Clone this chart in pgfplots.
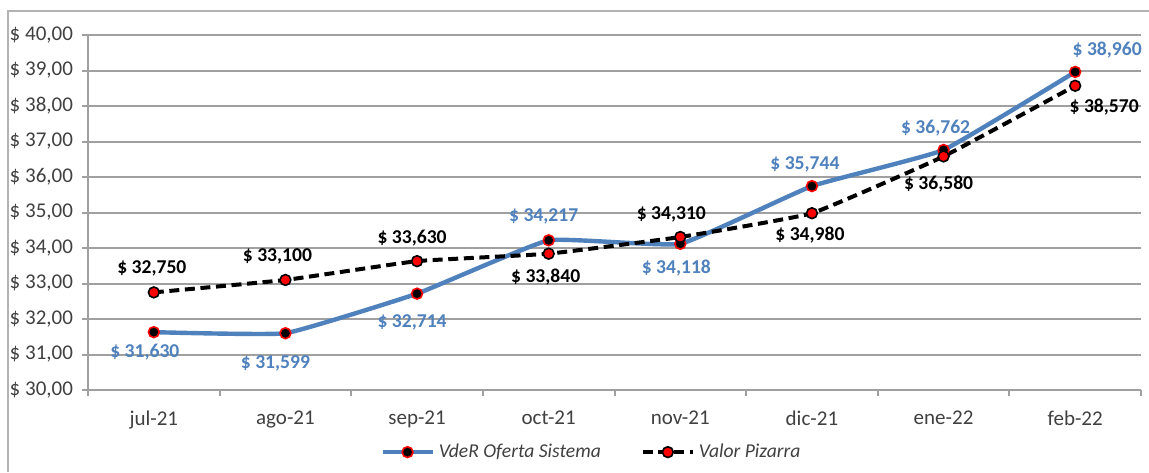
\documentclass[border=0pt]{standalone}
\usepackage{pgfplots}
\pgfplotsset{compat=1.18}
\usepackage{pgfplotstable}
\usepackage{fontspec}
\setmainfont{Carlito}
\definecolor{xlblue}{HTML}{4F81BD}
\definecolor{gridgray}{HTML}{A0A0A0}
\definecolor{txtgray}{HTML}{404040}

\pgfplotstableread{
x y dx dy
0 31.630 -4.5 -10
1 31.599 -5 -15
2 32.714 -2.5 -14.5
3 34.217 -2.5 12
4 34.118 -2 -12
5 35.744 -3.5 11
6 36.762 -4 11
7 38.960 16 11
}\vder

\pgfplotstableread{
x y dx dy
0 32.750 -1 12
1 33.100 -4 12
2 33.630 -2.5 11.5
3 33.840 -1.5 -11.5
4 34.310 -4.5 11.5
5 34.980 -1 -11
6 36.580 -2.5 -14
7 38.570 14.5 -10.5
}\pizarra

\begin{document}
\begin{tikzpicture}
\path[use as bounding box] (0,0) rectangle (574.5pt,236pt);
\draw[gridgray!80, line width=1pt] (4pt,0pt) -- (4pt,230.5pt) -- (574.5pt,230.5pt);
\begin{axis}[
  at={(44pt,41pt)}, anchor=south west,
  scale only axis, width=526.5pt, height=177.5pt,
  xmin=-0.5, xmax=7.5, ymin=30, ymax=40,
  xtick={0,...,7},
  xticklabels={jul-21,ago-21,sep-21,oct-21,nov-21,dic-21,ene-22,feb-22},
  major x tick style={draw=none},
  minor xtick={-0.5,0.5,...,7.5},
  minor x tick style={draw=gridgray, line width=1pt},
  minor tick length=3pt,
  ytick={30,31,...,40},
  major tick length=3pt,
  tick align=outside,
  y tick style={draw=gridgray, line width=1pt},
  axis x line*=bottom, axis y line*=left,
  axis line style={-, draw=gridgray, line width=1pt},
  every outer x axis line/.append style={-},
  every outer y axis line/.append style={-},
  ymajorgrids,
  grid style={draw=gridgray, line width=1pt},
  yticklabel={\$ \pgfmathprintnumber[fixed,fixed zerofill,precision=2,use comma,assume math mode=true]{\tick}},
  ticklabel style={font=\fontsize{10.5}{11}\selectfont, text=txtgray},
  yticklabel style={xshift=-1pt},
  xticklabel style={yshift=-4pt},
  legend style={at={(0.479,-0.175)}, anchor=center, draw=none, fill=none,
    font=\itshape\fontsize{9.8}{11}\selectfont, text=txtgray,
    /tikz/every even column/.append style={column sep=18pt}},
  legend columns=2,
  legend image code/.code={\draw[mark repeat=2,mark phase=2,#1] plot coordinates {(0pt,0pt) (12.5pt,0pt) (25pt,0pt)};},
  clip=false,
]
\addplot[xlblue, line width=2.2pt, smooth, tension=0.2,
  mark=*, mark size=2.7pt, mark options={solid, fill=black, draw=red, line width=0.8pt},
  visualization depends on={\thisrow{dx}\as\dx},
  visualization depends on={\thisrow{dy}\as\dy},
  nodes near coords={\$ \pgfmathprintnumber[fixed,fixed zerofill,precision=3,use comma,assume math mode=true]{\pgfplotspointmeta}},
  every node near coord/.append style={anchor=center, xshift=\dx pt, yshift=\dy pt,
    font=\bfseries\fontsize{9.8}{10}\selectfont, text=xlblue}
] table[x=x,y=y]{\vder};
\addlegendentry{VdeR Oferta Sistema}
\addplot[black, line width=2pt, dash pattern=on 5pt off 2.8pt, smooth, tension=0.2,
  mark=*, mark size=2.7pt, mark options={solid, fill=red, draw=black, line width=0.8pt},
  visualization depends on={\thisrow{dx}\as\dx},
  visualization depends on={\thisrow{dy}\as\dy},
  nodes near coords={\$ \pgfmathprintnumber[fixed,fixed zerofill,precision=3,use comma,assume math mode=true]{\pgfplotspointmeta}},
  every node near coord/.append style={anchor=center, xshift=\dx pt, yshift=\dy pt,
    font=\bfseries\fontsize{9.8}{10}\selectfont, text=black}
] table[x=x,y=y]{\pizarra};
\addlegendentry{Valor Pizarra}
\end{axis}
\end{tikzpicture}
\end{document}
